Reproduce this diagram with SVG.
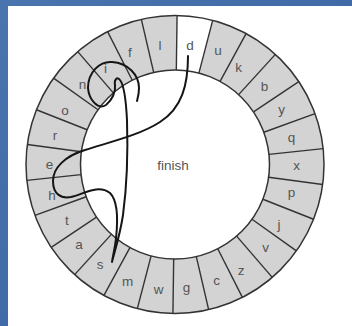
<svg xmlns="http://www.w3.org/2000/svg" xmlns:xlink="http://www.w3.org/1999/xlink" width="352" height="326" viewBox="0 0 352 326">
<defs>
<linearGradient id="bg" x1="0" y1="0" x2="1" y2="1">
<stop offset="0" stop-color="#4a74ae"/>
<stop offset="0.5" stop-color="#416ba6"/>
<stop offset="1" stop-color="#3a639e"/>
</linearGradient>
<line id="rad" x1="175" y1="15.5" x2="175" y2="70"/>
</defs>
<style>
.seg line, .seg use{stroke:#333;stroke-width:1.4}
.ring{fill:none;stroke:#333;stroke-width:1.5}
.lbl{font-family:"Liberation Sans",Arial,sans-serif;font-size:13.5px;fill:#555;text-anchor:middle}
.trace{fill:none;stroke:#151515;stroke-width:2;stroke-linecap:round;stroke-linejoin:round}
</style>
<rect x="0" y="0" width="352" height="326" fill="url(#bg)"/>
<rect x="8" y="6" width="344" height="320" fill="#ffffff"/>
<g id="ring">
<circle cx="175" cy="164.5" r="149" fill="#d3d3d3"/>
<circle cx="175" cy="164.5" r="94.5" fill="#ffffff"/>
<g transform="rotate(0.8 175 164.5)">
<path d="M175,15.5 A149,149 0 0 1 210.66,19.84 L197.61,72.75 A94.5,94.5 0 0 0 175,70 Z" fill="#ffffff"/>
<g class="seg">
<use xlink:href="#rad" transform="rotate(0 175 164.5)"/>
<use xlink:href="#rad" transform="rotate(13.846 175 164.5)"/>
<use xlink:href="#rad" transform="rotate(27.692 175 164.5)"/>
<use xlink:href="#rad" transform="rotate(41.538 175 164.5)"/>
<use xlink:href="#rad" transform="rotate(55.385 175 164.5)"/>
<use xlink:href="#rad" transform="rotate(69.231 175 164.5)"/>
<use xlink:href="#rad" transform="rotate(83.077 175 164.5)"/>
<use xlink:href="#rad" transform="rotate(96.923 175 164.5)"/>
<use xlink:href="#rad" transform="rotate(110.769 175 164.5)"/>
<use xlink:href="#rad" transform="rotate(124.615 175 164.5)"/>
<use xlink:href="#rad" transform="rotate(138.462 175 164.5)"/>
<use xlink:href="#rad" transform="rotate(152.308 175 164.5)"/>
<use xlink:href="#rad" transform="rotate(166.154 175 164.5)"/>
<use xlink:href="#rad" transform="rotate(180 175 164.5)"/>
<use xlink:href="#rad" transform="rotate(193.846 175 164.5)"/>
<use xlink:href="#rad" transform="rotate(207.692 175 164.5)"/>
<use xlink:href="#rad" transform="rotate(221.538 175 164.5)"/>
<use xlink:href="#rad" transform="rotate(235.385 175 164.5)"/>
<use xlink:href="#rad" transform="rotate(249.231 175 164.5)"/>
<use xlink:href="#rad" transform="rotate(263.077 175 164.5)"/>
<use xlink:href="#rad" transform="rotate(276.923 175 164.5)"/>
<use xlink:href="#rad" transform="rotate(290.769 175 164.5)"/>
<use xlink:href="#rad" transform="rotate(304.615 175 164.5)"/>
<use xlink:href="#rad" transform="rotate(318.462 175 164.5)"/>
<use xlink:href="#rad" transform="rotate(332.308 175 164.5)"/>
<use xlink:href="#rad" transform="rotate(346.154 175 164.5)"/>
</g>
</g>
<circle class="ring" cx="175" cy="164.5" r="149"/>
<circle class="ring" cx="175" cy="164.5" r="94.5"/>
</g>
<g id="seg-d"><text class="lbl" x="190" y="50">d</text></g>
<g id="seg-u"><text class="lbl" x="218" y="55">u</text></g>
<g id="seg-k"><text class="lbl" x="238.5" y="71.5">k</text></g>
<g id="seg-b"><text class="lbl" x="264.5" y="90.5">b</text></g>
<g id="seg-y"><text class="lbl" x="281.5" y="114">y</text></g>
<g id="seg-q"><text class="lbl" x="291.5" y="142">q</text></g>
<g id="seg-x"><text class="lbl" x="296.5" y="170">x</text></g>
<g id="seg-p"><text class="lbl" x="291.5" y="197">p</text></g>
<g id="seg-j"><text class="lbl" x="279" y="228.5">j</text></g>
<g id="seg-v"><text class="lbl" x="265.5" y="251.5">v</text></g>
<g id="seg-z"><text class="lbl" x="241" y="274.5">z</text></g>
<g id="seg-c"><text class="lbl" x="216.5" y="285">c</text></g>
<g id="seg-g"><text class="lbl" x="186.5" y="292">g</text></g>
<g id="seg-w"><text class="lbl" x="158.5" y="294">w</text></g>
<g id="seg-m"><text class="lbl" x="127.5" y="286">m</text></g>
<g id="seg-s"><text class="lbl" x="100" y="268.5">s</text></g>
<g id="seg-a"><text class="lbl" x="79" y="248.5">a</text></g>
<g id="seg-t"><text class="lbl" x="67" y="224.5">t</text></g>
<g id="seg-h"><text class="lbl" x="52" y="199.5">h</text></g>
<g id="seg-e"><text class="lbl" x="49.5" y="168.5">e</text></g>
<g id="seg-r"><text class="lbl" x="55" y="140">r</text></g>
<g id="seg-o"><text class="lbl" x="65" y="114.5">o</text></g>
<g id="seg-n"><text class="lbl" x="82.5" y="89">n</text></g>
<g id="seg-i"><text class="lbl" x="105.5" y="73">i</text></g>
<g id="seg-f"><text class="lbl" x="130" y="56.5">f</text></g>
<g id="seg-l"><text class="lbl" x="160" y="49.5">l</text></g>
<g id="finish"><text class="lbl" x="173" y="169.5">finish</text></g>
<g id="connectors">
<path class="trace" d="M188,56 C188,85 182,108 160,122 C140,135 110,142 85,150 C65,156 53,168 53,181 C53,194 61,199 71,197 C84,194 98,184 110,193 C118,201 118,220 116,238 C115,248 113,255 112,262 C115,250 120,235 123,215 C127,185 128,150 127,120 C126,100 124,85 120,80 C117,76 114,80 115,85 C116,92 112,100 106,105 C98,110 89,100 88,88 C88,72 100,61 112,62 C128,63 139,75 139,88 C139,94 138,97 137,101"/>
</g>
</svg>
